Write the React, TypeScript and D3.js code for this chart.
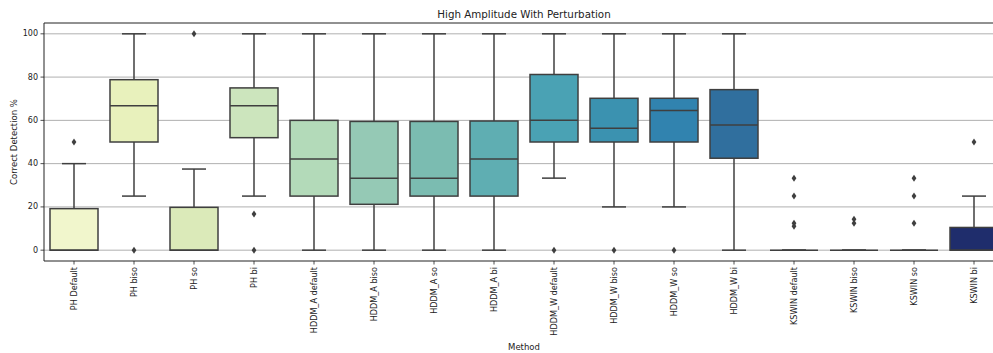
import React from "react"
import * as d3 from "d3"

const categories = [
    "PH Default", "PH biso", "PH so", "PH bi",
    "HDDM_A default", "HDDM_A biso", "HDDM_A so", "HDDM_A bi",
    "HDDM_W default", "HDDM_W biso", "HDDM_W so", "HDDM_W bi",
    "KSWIN default", "KSWIN biso", "KSWIN so", "KSWIN bi",
]

const q1 = [0, 50, 0, 52, 25, 21.2, 25, 25, 50, 50, 50, 42.5, 0, 0, 0, 0]
const median = [0, 66.7, 0, 66.7, 42.2, 33.3, 33.3, 42.2, 60, 56.3, 64.6, 57.9, 0, 0, 0, 0]
const q3 = [19.2, 78.8, 19.8, 75, 60, 59.5, 59.5, 59.7, 81.2, 70.2, 70.2, 74.2, 0, 0, 0, 10.5]
const whiskerLow = [0, 25, 0, 25, 0, 0, 0, 0, 33.3, 20, 20, 0, 0, 0, 0, 0]
const whiskerHigh = [40, 100, 37.5, 100, 100, 100, 100, 100, 100, 100, 100, 100, 0, 0, 0, 25]
const outliers = [
    [50], [0], [100], [16.7, 0],
    [], [], [], [],
    [0], [0], [0], [],
    [33.3, 25, 12.5, 11.1], [14.3, 12.5], [33.3, 25, 12.5], [50],
]

const colors = [
    "#f1f6cc", "#e8f1bc", "#dbeab9", "#cce5bd",
    "#b3dab9", "#95c9b5", "#7bbcb1", "#5faeb2",
    "#4aa2b4", "#3b92b0", "#3183af", "#306f9e",
    "#2b5c95", "#284a8c", "#253b80", "#1f2d6c",
]

const yTicks = [0, 20, 40, 60, 80, 100]

export default function App() {
    const width = 993
    const height = 353
    const left = 44
    const right = 1004
    const top = 23
    const bottom = 261

    const x = d3.scaleBand<string>().domain(categories).range([left, right]).padding(0)
    const y = d3.scaleLinear().domain([-5, 105]).range([bottom, top])

    const bw = x.bandwidth() * 0.8
    const edge = "#3f3f3f"
    const font = "DejaVu Sans, sans-serif"

    return (
        <svg width={width} height={height} style={{ position: "absolute", left: 0, top: 0 }}>
            <rect width={width} height={height} fill="#fff" />
            {yTicks.map((t) => (
                <line key={"g" + t} x1={left} x2={right} y1={y(t)} y2={y(t)} stroke="#b0b0b0" strokeWidth={1} />
            ))}
            {categories.map((c, i) => {
                const cx = x(c)! + x.bandwidth() / 2
                return (
                    <g key={c}>
                        <line x1={cx} x2={cx} y1={y(q3[i])} y2={y(whiskerHigh[i])} stroke={edge} strokeWidth={1.5} />
                        <line x1={cx} x2={cx} y1={y(q1[i])} y2={y(whiskerLow[i])} stroke={edge} strokeWidth={1.5} />
                        <line x1={cx - bw / 4} x2={cx + bw / 4} y1={y(whiskerHigh[i])} y2={y(whiskerHigh[i])} stroke={edge} strokeWidth={1.5} />
                        <line x1={cx - bw / 4} x2={cx + bw / 4} y1={y(whiskerLow[i])} y2={y(whiskerLow[i])} stroke={edge} strokeWidth={1.5} />
                        <rect x={cx - bw / 2} width={bw} y={y(q3[i])} height={y(q1[i]) - y(q3[i])}
                            fill={colors[i]} stroke={edge} strokeWidth={1.5} />
                        <line x1={cx - bw / 2} x2={cx + bw / 2} y1={y(median[i])} y2={y(median[i])} stroke={edge} strokeWidth={1.5} />
                        {outliers[i].map((o, j) => {
                            const oy = y(o)
                            return (
                                <path key={j} d={`M${cx},${oy - 3.5}L${cx + 2.4},${oy}L${cx},${oy + 3.5}L${cx - 2.4},${oy}Z`} fill={edge} />
                            )
                        })}
                    </g>
                )
            })}
            <line x1={left} x2={left} y1={top} y2={bottom} stroke="#222" strokeWidth={1} />
            <line x1={left} x2={right} y1={bottom} y2={bottom} stroke="#222" strokeWidth={1} />
            <line x1={left} x2={right} y1={top} y2={top} stroke="#222" strokeWidth={1} />
            {yTicks.map((t) => (
                <g key={"t" + t}>
                    <line x1={left - 3.5} x2={left} y1={y(t)} y2={y(t)} stroke="#222" strokeWidth={0.8} />
                    <text x={left - 6} y={y(t)} dy="0.32em" textAnchor="end" fontSize={8} fontFamily={font} fill="#222">{t}</text>
                </g>
            ))}
            {categories.map((c) => {
                const cx = x(c)! + x.bandwidth() / 2
                return (
                    <g key={"x" + c}>
                        <line x1={cx} x2={cx} y1={bottom} y2={bottom + 3.5} stroke="#222" strokeWidth={0.8} />
                        <text transform={`translate(${cx + 3},${bottom + 6}) rotate(-90)`} textAnchor="end"
                            fontSize={8.1} fontFamily={font} fill="#222">{c}</text>
                    </g>
                )
            })}
            <text x={(left + right) / 2} y={18} textAnchor="middle" fontSize={10.3} fontFamily={font} fill="#222">
                High Amplitude With Perturbation
            </text>
            <text transform={`translate(17,${(top + bottom) / 2}) rotate(-90)`} textAnchor="middle" fontSize={8.5} fontFamily={font} fill="#222">
                Correct Detection %
            </text>
            <text x={(left + right) / 2} y={350} textAnchor="middle" fontSize={8.5} fontFamily={font} fill="#222">
                Method
            </text>
        </svg>
    )
}
